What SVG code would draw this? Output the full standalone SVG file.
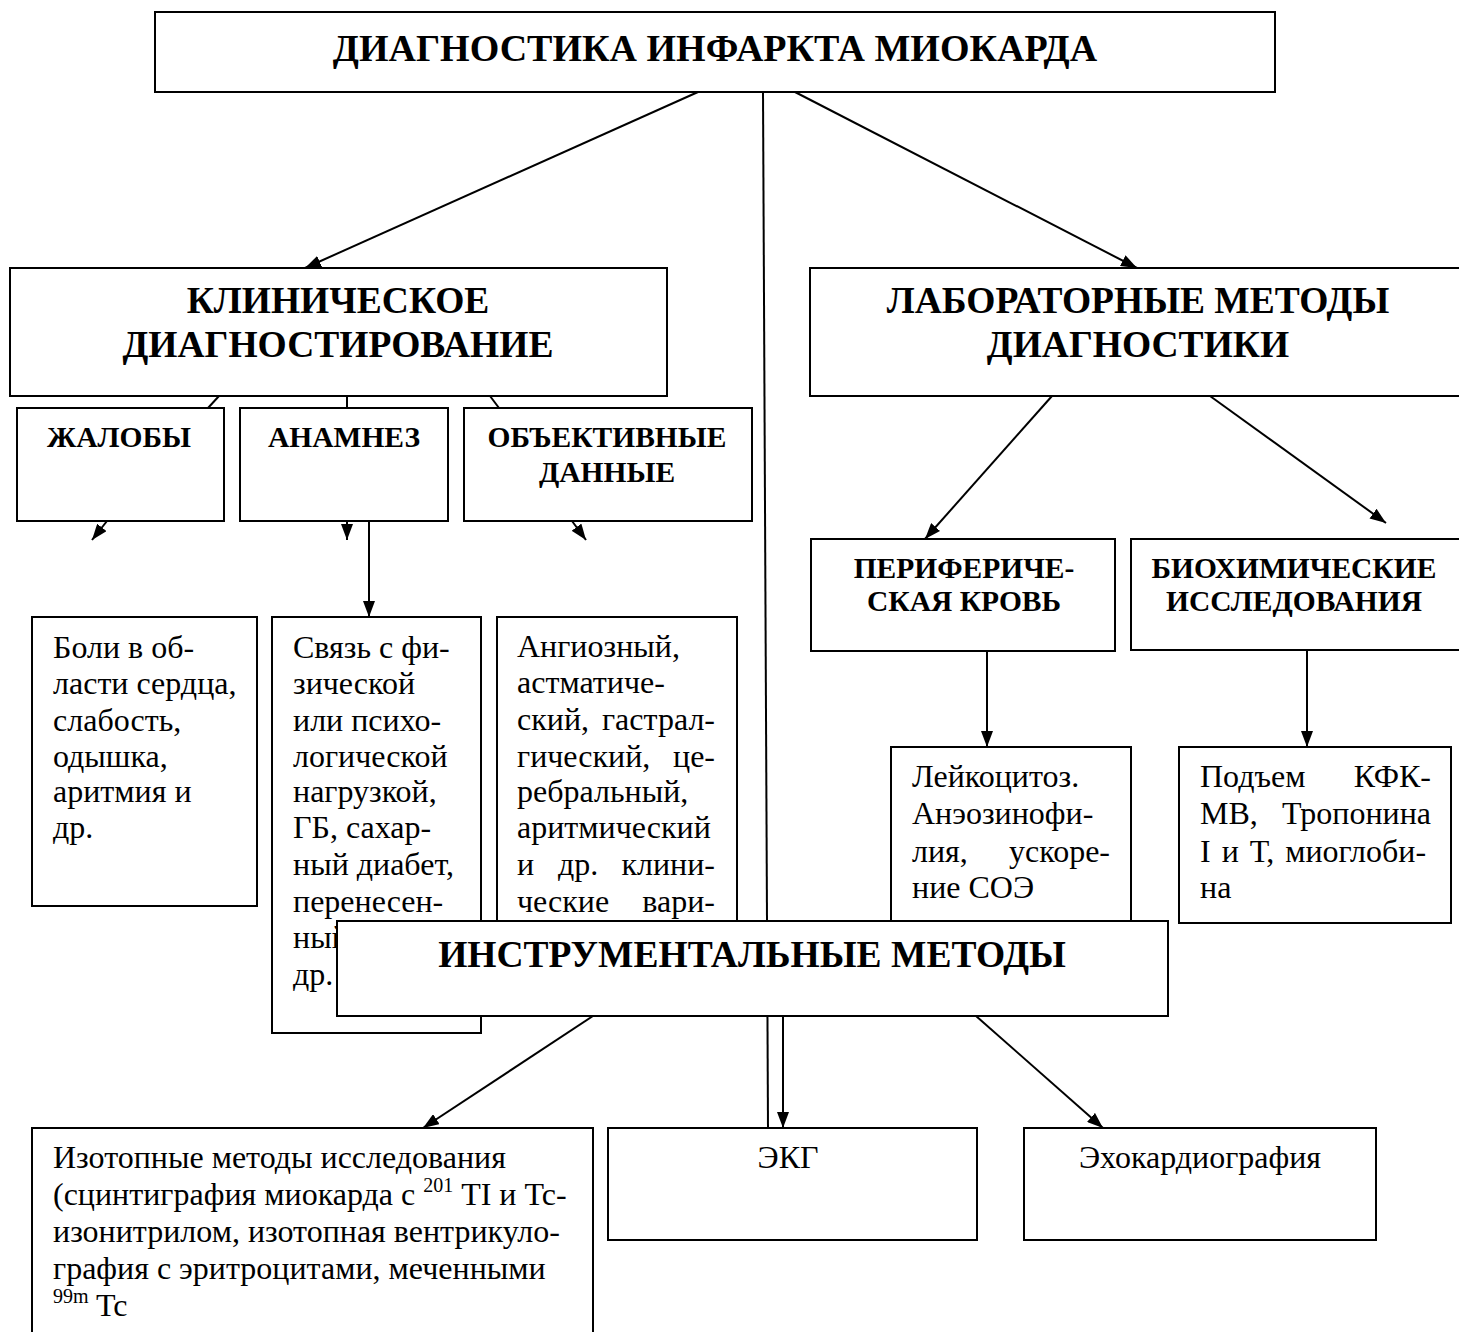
<svg xmlns="http://www.w3.org/2000/svg" width="1459" height="1332" viewBox="0 0 1459 1332">
<style>
.box{fill:#fff;stroke:#000;stroke-width:2}
.t0{font-family:"Liberation Serif","Times New Roman",serif;font-weight:bold;font-size:38px;text-anchor:middle;fill:#000}
.t1{font-family:"Liberation Serif","Times New Roman",serif;font-weight:bold;font-size:37.5px;text-anchor:middle;fill:#000}
.t2{font-family:"Liberation Serif","Times New Roman",serif;font-weight:bold;font-size:29.5px;text-anchor:middle;fill:#000}
.tx{font-family:"Liberation Serif","Times New Roman",serif;font-size:32px;fill:#000}
.c{text-anchor:middle}
.e{text-anchor:end}
.ln{stroke:#000;stroke-width:2;fill:none}
</style>
<defs>
<marker id="ah" viewBox="0 0 16 12" refX="16" refY="6" markerWidth="16" markerHeight="12" markerUnits="userSpaceOnUse" orient="auto">
<path d="M0,0 L16,6 L0,12 z" fill="#000"/>
</marker>
</defs>

<g id="connectors">
<line class="ln" x1="698" y1="92" x2="305" y2="268" marker-end="url(#ah)"/>
<line class="ln" x1="795" y1="92" x2="1137" y2="268" marker-end="url(#ah)"/>
<line class="ln" x1="763" y1="92" x2="768" y2="1128"/>
<line class="ln" x1="219" y1="396" x2="208" y2="408"/>
<line class="ln" x1="347" y1="396" x2="347" y2="408"/>
<line class="ln" x1="490" y1="396" x2="499" y2="408"/>
<line class="ln" x1="107" y1="521" x2="92" y2="540" marker-end="url(#ah)"/>
<line class="ln" x1="347" y1="521" x2="347" y2="540" marker-end="url(#ah)"/>
<line class="ln" x1="572" y1="521" x2="586" y2="540" marker-end="url(#ah)"/>
<line class="ln" x1="369" y1="521" x2="369" y2="617" marker-end="url(#ah)"/>
<line class="ln" x1="1052" y1="396" x2="925" y2="539" marker-end="url(#ah)"/>
<line class="ln" x1="1210" y1="396" x2="1386" y2="523" marker-end="url(#ah)"/>
<line class="ln" x1="987" y1="651" x2="987" y2="747" marker-end="url(#ah)"/>
<line class="ln" x1="1307" y1="651" x2="1307" y2="747" marker-end="url(#ah)"/>
<line class="ln" x1="593" y1="1016" x2="423" y2="1128" marker-end="url(#ah)"/>
<line class="ln" x1="783" y1="1016" x2="783" y2="1128" marker-end="url(#ah)"/>
<line class="ln" x1="976" y1="1016" x2="1103" y2="1128" marker-end="url(#ah)"/>
</g>

<g id="n-top">
<rect class="box" x="155" y="12" width="1120" height="80"/>
<text class="t0" x="715" y="61">ДИАГНОСТИКА ИНФАРКТА МИОКАРДА</text>
</g>

<g id="n-klin">
<rect class="box" x="10" y="268" width="657" height="128"/>
<text class="t1" x="338" y="313">КЛИНИЧЕСКОЕ</text>
<text class="t1" x="338" y="357">ДИАГНОСТИРОВАНИЕ</text>
</g>

<g id="n-lab">
<rect class="box" x="810" y="268" width="660" height="128"/>
<text class="t1" x="1138" y="313">ЛАБОРАТОРНЫЕ МЕТОДЫ</text>
<text class="t1" x="1138" y="357">ДИАГНОСТИКИ</text>
</g>

<g id="n-zhaloby">
<rect class="box" x="17" y="408" width="207" height="113"/>
<text class="t2" x="119" y="447">ЖАЛОБЫ</text>
</g>

<g id="n-anamnez">
<rect class="box" x="240" y="408" width="208" height="113"/>
<text class="t2" x="344" y="447">АНАМНЕЗ</text>
</g>

<g id="n-obj">
<rect class="box" x="464" y="408" width="288" height="113"/>
<text class="t2" x="607" y="447">ОБЪЕКТИВНЫЕ</text>
<text class="t2" x="607" y="482">ДАННЫЕ</text>
</g>

<g id="n-boli">
<rect class="box" x="32" y="617" width="225" height="289"/>
<text class="tx" x="53" y="658">Боли в об-</text>
<text class="tx" x="53" y="694">ласти сердца,</text>
<text class="tx" x="53" y="731">слабость,</text>
<text class="tx" x="53" y="767">одышка,</text>
<text class="tx" x="53" y="802">аритмия и</text>
<text class="tx" x="53" y="838">др.</text>
</g>

<g id="n-svyaz">
<rect class="box" x="272" y="617" width="209" height="416"/>
<text class="tx" x="293" y="658">Связь с фи-</text>
<text class="tx" x="293" y="694">зической</text>
<text class="tx" x="293" y="731">или психо-</text>
<text class="tx" x="293" y="767">логической</text>
<text class="tx" x="293" y="802">нагрузкой,</text>
<text class="tx" x="293" y="838">ГБ, сахар-</text>
<text class="tx" x="293" y="875">ный диабет,</text>
<text class="tx" x="293" y="912">перенесен-</text>
<text class="tx" x="293" y="948">ный</text>
<text class="tx" x="293" y="985">др.</text>
</g>

<g id="n-angio">
<rect class="box" x="497" y="617" width="240" height="390"/>
<text class="tx" x="517" y="657">Ангиозный,</text>
<text class="tx" x="517" y="693">астматиче-</text>
<text class="tx" x="517" y="730">ский,</text>
<text class="tx e" x="715" y="730">гастрал-</text>
<text class="tx" x="517" y="767">гический,</text>
<text class="tx e" x="715" y="767">це-</text>
<text class="tx" x="517" y="802">ребральный,</text>
<text class="tx" x="517" y="838">аритмический</text>
<text class="tx" x="517" y="875">и</text>
<text class="tx" x="558" y="875">др.</text>
<text class="tx e" x="715" y="875">клини-</text>
<text class="tx" x="517" y="912">ческие</text>
<text class="tx e" x="715" y="912">вари-</text>
</g>

<g id="n-perif">
<rect class="box" x="811" y="539" width="304" height="112"/>
<text class="t2" x="964" y="578">ПЕРИФЕРИЧЕ-</text>
<text class="t2" x="964" y="611">СКАЯ КРОВЬ</text>
</g>

<g id="n-bio">
<rect class="box" x="1131" y="539" width="340" height="111"/>
<text class="t2" x="1294" y="578">БИОХИМИЧЕСКИЕ</text>
<text class="t2" x="1294" y="611">ИССЛЕДОВАНИЯ</text>
</g>

<g id="n-leyko">
<rect class="box" x="891" y="747" width="240" height="260"/>
<text class="tx" x="912" y="787">Лейкоцитоз.</text>
<text class="tx" x="912" y="824">Анэозинофи-</text>
<text class="tx" x="912" y="862">лия,</text>
<text class="tx e" x="1110" y="862">ускоре-</text>
<text class="tx" x="912" y="898">ние СОЭ</text>
</g>

<g id="n-podem">
<rect class="box" x="1179" y="747" width="272" height="176"/>
<text class="tx" x="1200" y="787">Подъем</text>
<text class="tx e" x="1431" y="787">КФК-</text>
<text class="tx" x="1200" y="824">МВ,</text>
<text class="tx e" x="1431" y="824">Тропонина</text>
<text class="tx" x="1200" y="862" word-spacing="3">I и Т, миоглоби-</text>
<text class="tx" x="1200" y="898">на</text>
</g>

<g id="n-instr">
<rect class="box" x="337" y="921" width="831" height="95"/>
<text class="t1" x="752" y="967">ИНСТРУМЕНТАЛЬНЫЕ МЕТОДЫ</text>
</g>

<g id="n-izotop">
<rect class="box" x="32" y="1128" width="561" height="220"/>
<text class="tx" x="53" y="1168">Изотопные методы исследования</text>
<text class="tx" x="53" y="1205">(сцинтиграфия миокарда с <tspan font-size="20" dy="-13">201</tspan><tspan dy="13"> TI и Tc-</tspan></text>
<text class="tx" x="53" y="1242">изонитрилом, изотопная вентрикуло-</text>
<text class="tx" x="53" y="1279">графия с эритроцитами, меченными</text>
<text class="tx" x="53" y="1316"><tspan font-size="20" dy="-13">99m</tspan><tspan dy="13"> Tc</tspan></text>
</g>

<g id="n-ekg">
<rect class="box" x="608" y="1128" width="369" height="112"/>
<text class="tx c" x="788" y="1168">ЭКГ</text>
</g>

<g id="n-echo">
<rect class="box" x="1024" y="1128" width="352" height="112"/>
<text class="tx c" x="1200" y="1168">Эхокардиография</text>
</g>
</svg>
